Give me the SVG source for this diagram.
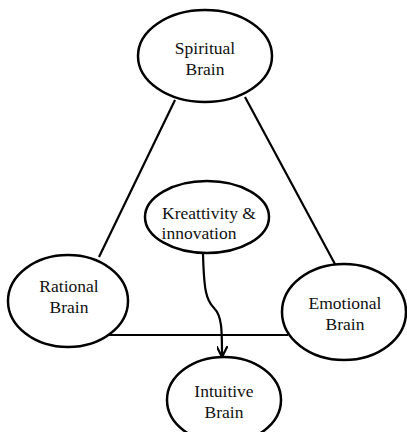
<svg xmlns="http://www.w3.org/2000/svg" width="407" height="432" viewBox="0 0 407 432">
<defs>
<style>
.n{fill:#fff;stroke:#000;stroke-width:2.5}
.t{font-family:"Liberation Serif",serif;font-size:17.5px;fill:#111;text-anchor:middle}
.c{fill:none;stroke:#000;stroke-width:2.2}
</style>
<marker id="ah" viewBox="0 0 10 10" refX="9" refY="5" markerWidth="5" markerHeight="5" orient="auto" markerUnits="strokeWidth">
<path d="M0,0 L10,5 L0,10" fill="none" stroke="#000" stroke-width="2"/>
</marker>
</defs>
<g id="connectors">
<line class="c" x1="175" y1="100" x2="99" y2="257"/>
<line class="c" x1="245" y1="97" x2="336" y2="266"/>
<line class="c" x1="108" y1="335" x2="288" y2="335"/>
<path class="c" d="M203,254 C204,290 206,300 214,308 C222,316 222,330 222,356" marker-end="url(#ah)"/>
</g>
<g id="spiritual">
<ellipse class="n" cx="205" cy="56" rx="67" ry="46"/>
<text class="t" x="205" y="54">Spiritual</text>
<text class="t" x="205" y="75">Brain</text>
</g>
<g id="kreattivity">
<ellipse class="n" cx="207" cy="217" rx="62" ry="36"/>
<text class="t" x="209" y="219">Kreattivity &amp;</text>
<text class="t" x="199" y="239">innovation</text>
</g>
<g id="rational">
<ellipse class="n" cx="68" cy="301" rx="60" ry="46"/>
<text class="t" x="69" y="292">Rational</text>
<text class="t" x="69" y="313">Brain</text>
</g>
<g id="emotional">
<ellipse class="n" cx="344" cy="312" rx="62" ry="48"/>
<text class="t" x="345" y="309">Emotional</text>
<text class="t" x="345" y="330">Brain</text>
</g>
<g id="intuitive">
<ellipse class="n" cx="224" cy="400" rx="57" ry="43"/>
<text class="t" x="224" y="397">Intuitive</text>
<text class="t" x="224" y="418">Brain</text>
</g>
</svg>
